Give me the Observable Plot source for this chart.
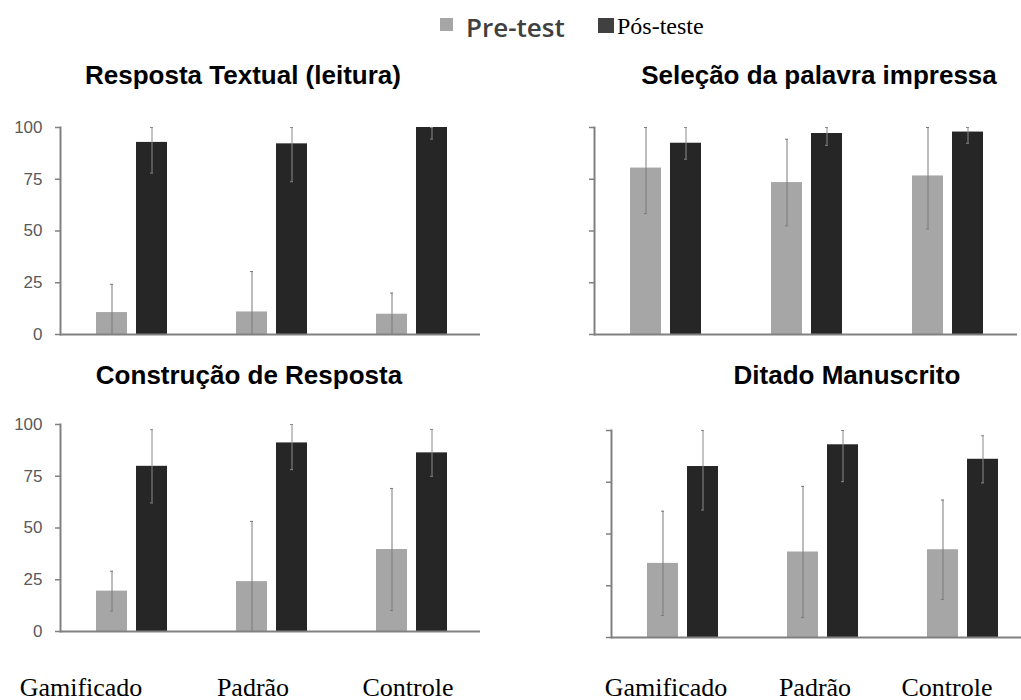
<!DOCTYPE html>
<html><head><meta charset="utf-8">
<script src="https://cdn.jsdelivr.net/npm/d3@7"></script>
<script src="https://cdn.jsdelivr.net/npm/@observablehq/plot@0.6"></script>
<style>
html,body{margin:0;padding:0;background:#fff;width:1021px;height:700px;overflow:hidden;position:relative}
.abs{position:absolute;line-height:1;white-space:nowrap}
.title{position:absolute;width:500px;text-align:center;font:bold 26px "Liberation Sans",Arial,sans-serif;line-height:1;color:#000;white-space:nowrap}
.xl{position:absolute;width:200px;text-align:center;font:26px "Liberation Serif","Times New Roman",serif;line-height:1;color:#000;white-space:nowrap}
svg{position:absolute}
</style></head><body>
<script>
// ---- data ----
const groups = ["Gamificado", "Padrão", "Controle"];
const series = ["Pre-test", "Pós-teste"];
const yTicks = [0, 25, 50, 75, 100];
const titles = ["Resposta Textual (leitura)", "Seleção da palavra impressa", "Construção de Resposta", "Ditado Manuscrito"];

const textualPre = [10.6, 10.9, 9.8];
const textualPreSD = [13.6, 19.5, 10.2];
const textualPost = [92.8, 92.1, 100];
const textualPostSD = [14.8, 18.3, 5.6];

const selecaoPre = [80.4, 73.4, 76.6];
const selecaoPreSD = [22.0, 20.9, 25.6];
const selecaoPost = [92.4, 97.1, 97.8];
const selecaoPostSD = [7.7, 5.7, 5.4];

const construcaoPre = [19.5, 24.1, 39.6];
const construcaoPreSD = [9.6, 29.1, 29.5];
const construcaoPost = [79.8, 91.1, 86.3];
const construcaoPostSD = [17.7, 12.9, 11.3];

const ditadoPre = [35.8, 41.3, 42.4];
const ditadoPreSD = [25.2, 31.7, 24.0];
const ditadoPost = [82.6, 93.1, 86.1];
const ditadoPostSD = [21.0, 17.8, 11.4];

// ---- build rows ----
function rows(mean, sd) {
  return groups.map((g, i) => ({
    group: g, value: mean[i],
    lo: Math.max(0, mean[i] - sd[i]),
    hi: Math.min(100, mean[i] + sd[i])
  }));
}
const panels = [
  {pre: rows(textualPre, textualPreSD), post: rows(textualPost, textualPostSD), labels: true},
  {pre: rows(selecaoPre, selecaoPreSD), post: rows(selecaoPost, selecaoPostSD), labels: false},
  {pre: rows(construcaoPre, construcaoPreSD), post: rows(construcaoPost, construcaoPostSD), labels: true},
  {pre: rows(ditadoPre, ditadoPreSD), post: rows(ditadoPost, ditadoPostSD), labels: false}
];

// ---- layout (page positions) ----
const layout = [
  {left: 0, top: 110, width: 500, marginRight: 20},
  {left: 534, top: 110, width: 487, marginRight: 4},
  {left: 0, top: 407, width: 500, marginRight: 20},
  {left: 551, top: 413, width: 480, marginRight: 0}
];
const titlePos = [{cx: 243, top: 62}, {cx: 819, top: 62}, {cx: 249, top: 362}, {cx: 847, top: 362}];
const xLabelCx = [[81, 253, 408], [666, 815, 947]];

const PRE = "#a6a6a6", POST = "#262626", AXIS = "#808080";

panels.forEach((p, k) => {
  const L = layout[k];
  const bw = (L.width - 60 - L.marginRight) / 3;
  const preC = 51.5, postC = 91.5; // bar centres within a group band
  const chart = Plot.plot({
    width: L.width, height: 236,
    marginLeft: 60, marginRight: L.marginRight, marginTop: 17, marginBottom: 12,
    x: {domain: groups, padding: 0, axis: null},
    y: {domain: [0, 100], axis: null},
    style: {background: "transparent", overflow: "visible", fontFamily: "'Liberation Sans', Arial, sans-serif"},
    marks: [
      Plot.barY(p.pre, {x: "group", y: "value", fill: PRE, insetLeft: preC - 15.5, insetRight: bw - preC - 15.5}),
      Plot.barY(p.post, {x: "group", y: "value", fill: POST, insetLeft: postC - 15.5, insetRight: bw - postC - 15.5}),
      Plot.ruleX(p.pre, {x: "group", y1: "lo", y2: "hi", dx: preC - bw / 2, stroke: "#7a7a7a", strokeWidth: 1}),
      Plot.ruleX(p.post, {x: "group", y1: "lo", y2: "hi", dx: postC - bw / 2, stroke: "#8a8a8a", strokeWidth: 1}),
      Plot.tickY(p.pre, {x: "group", y: "hi", stroke: "#7a7a7a", insetLeft: preC - 1.5, insetRight: bw - preC - 1.5}),
      Plot.tickY(p.post, {x: "group", y: "hi", stroke: "#8a8a8a", insetLeft: postC - 1.5, insetRight: bw - postC - 1.5}),
      Plot.tickY(p.pre, {x: "group", y: "lo", stroke: "#7a7a7a", insetLeft: preC - 1.5, insetRight: bw - preC - 1.5}),
      Plot.tickY(p.post, {x: "group", y: "lo", stroke: "#8a8a8a", insetLeft: postC - 1.5, insetRight: bw - postC - 1.5}),
      Plot.ruleY([0], {stroke: AXIS, strokeWidth: 2}),
      Plot.frame({anchor: "left", stroke: AXIS, strokeWidth: 2}),
      Plot.axisY({
        ticks: yTicks, tickSize: 5, tickPadding: 13, stroke: AXIS, strokeWidth: 1.5,
        fill: "#595959", fontSize: 17,
        tickFormat: p.labels ? (d => String(d)) : (() => "")
      })
    ]
  });
  chart.style.left = L.left + "px";
  chart.style.top = L.top + "px";
  document.body.appendChild(chart);

  const t = document.createElement("div");
  t.className = "title";
  t.textContent = titles[k];
  t.style.left = (titlePos[k].cx - 250) + "px";
  t.style.top = titlePos[k].top + "px";
  document.body.appendChild(t);
});

// x category labels under the bottom row
xLabelCx.forEach(row => row.forEach((cx, i) => {
  const d = document.createElement("div");
  d.className = "xl";
  d.textContent = groups[i];
  d.style.left = (cx - 100) + "px";
  d.style.top = "675px";
  document.body.appendChild(d);
}));

// legend
function addEl(css, text) {
  const e = document.createElement("div");
  e.className = "abs";
  Object.assign(e.style, css);
  if (text) e.textContent = text;
  document.body.appendChild(e);
}
addEl({left: "440px", top: "18px", width: "13px", height: "13px", background: PRE});
addEl({left: "466px", top: "9px", font: "600 26px 'Open Sans', 'Liberation Sans', sans-serif", color: "#404040"}, series[0]);
addEl({left: "598px", top: "18px", width: "16px", height: "15px", background: "#404040"});
addEl({left: "617px", top: "13px", font: "24px 'Liberation Serif', 'Times New Roman', serif", color: "#000"}, series[1]);
</script>
</body></html>
